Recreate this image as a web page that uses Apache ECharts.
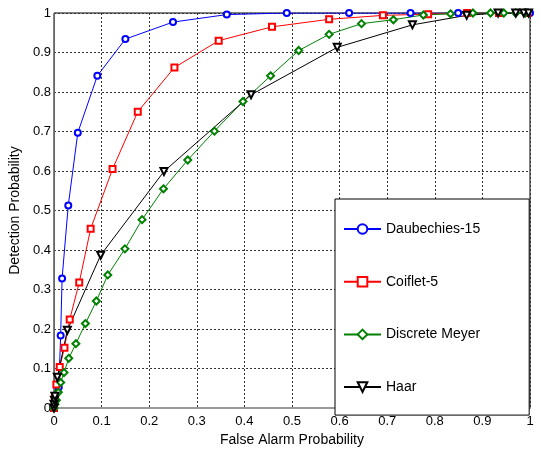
<!DOCTYPE html>
<html>
<head>
<meta charset="utf-8">
<script src="https://cdn.jsdelivr.net/npm/echarts@6/dist/echarts.min.js"></script>
<style>
  html, body { margin: 0; padding: 0; background: #fff; }
  #chart { width: 540px; height: 452px; }
</style>
</head>
<body>
<div id="chart"></div>
<script>
// ROC curves
const seriesNames = ['Daubechies-15', 'Coiflet-5', 'Discrete Meyer', 'Haar'];

const daubX = [0, 0.002, 0.010, 0.014, 0.017, 0.030, 0.050, 0.091, 0.150, 0.250, 0.363, 0.489, 0.620, 0.749, 0.849, 0.935, 1.0];
const daubY = [0, 0.02, 0.053, 0.184, 0.328, 0.513, 0.697, 0.841, 0.934, 0.977, 0.996, 1, 1, 1, 1, 1, 1];

const coifX = [0, 0.002, 0.005, 0.012, 0.022, 0.033, 0.053, 0.077, 0.123, 0.176, 0.253, 0.346, 0.458, 0.578, 0.691, 0.786, 0.868, 0.935, 0.994];
const coifY = [0.0, 0.03, 0.06, 0.104, 0.153, 0.224, 0.318, 0.454, 0.605, 0.750, 0.862, 0.930, 0.965, 0.984, 0.994, 0.997, 1, 1, 1];

const meyerX = [0, 0.002, 0.005, 0.009, 0.014, 0.021, 0.031, 0.046, 0.066, 0.089, 0.113, 0.149, 0.185, 0.230, 0.281, 0.337, 0.397, 0.455, 0.514, 0.578, 0.646, 0.713, 0.776, 0.833, 0.880, 0.917, 0.945, 0.970, 0.990];
const meyerY = [0, 0.01, 0.02, 0.04, 0.065, 0.090, 0.126, 0.163, 0.214, 0.271, 0.337, 0.403, 0.477, 0.555, 0.628, 0.701, 0.776, 0.841, 0.905, 0.946, 0.973, 0.983, 0.995, 0.998, 1, 1, 1, 1, 1];

const haarX = [0, 0, 0.001, 0.002, 0.007, 0.028, 0.098, 0.231, 0.414, 0.595, 0.753, 0.867, 0.933, 0.970, 0.987, 0.997];
const haarY = [0, 0.01, 0.02, 0.03, 0.078, 0.197, 0.387, 0.599, 0.793, 0.913, 0.970, 0.994, 1, 1, 1, 1];

const zip = (xs, ys) => xs.map((x, i) => [x, ys[i]]);

const font = 'Liberation Sans, Arial, sans-serif';

const chart = echarts.init(document.getElementById('chart'), null, { renderer: 'canvas' });

function curve(name, data, color, symbol, size, rotate) {
  return {
    name: name,
    type: 'line',
    data: data,
    symbol: symbol,
    symbolSize: size,
    symbolRotate: rotate || 0,
    showAllSymbol: true,
    animation: false,
    lineStyle: { color: color, width: 1 },
    itemStyle: { color: color, borderColor: color, borderWidth: 1 },
    emphasis: { disabled: true },
  };
}

const option = {
  backgroundColor: '#fff',
  animation: false,
  grid: {
    left: 54, right: 10, top: 13, bottom: 36,
    show: true, borderColor: '#000', borderWidth: 1, backgroundColor: '#fff',
  },
  xAxis: {
    type: 'value', min: 0, max: 1, interval: 0.1,
    name: 'False Alarm Probability',
    nameLocation: 'middle', nameGap: 24,
    nameTextStyle: { fontFamily: font, fontSize: 14, color: '#000' },
    axisLine: { show: true, lineStyle: { color: '#999', width: 2 } },
    axisTick: { show: false },
    axisLabel: { fontFamily: font, fontSize: 13, color: '#000', margin: 7 },
    splitLine: { show: true, lineStyle: { color: '#333', type: [2, 2], width: 1 } },
  },
  yAxis: {
    type: 'value', min: 0, max: 1, interval: 0.1,
    name: 'Detection Probability',
    nameLocation: 'middle', nameGap: 26,
    nameTextStyle: { fontFamily: font, fontSize: 14, color: '#000' },
    axisLine: { show: true, lineStyle: { color: '#666', width: 1 } },
    axisTick: { show: false },
    axisLabel: { fontFamily: font, fontSize: 13, color: '#000', margin: 3 },
    splitLine: { show: true, lineStyle: { color: '#333', type: [2, 2], width: 1 } },
  },
  legend: {
    data: seriesNames,
    orient: 'vertical',
    left: 335, top: 199,
    padding: [23, 49, 21, 8],
    itemWidth: 37, itemHeight: 12, itemGap: 38.7,
    backgroundColor: '#fff', borderColor: '#000', borderWidth: 1,
    textStyle: { fontFamily: font, fontSize: 14, color: '#000' },
    selectedMode: false,
  },
  series: [
    curve(seriesNames[0], zip(daubX, daubY), '#0000ff', 'emptyCircle', 6),
    curve(seriesNames[1], zip(coifX, coifY), '#ff0000', 'emptyRect', 6),
    curve(seriesNames[2], zip(meyerX, meyerY), '#008000', 'emptyDiamond', 7),
    curve(seriesNames[3], zip(haarX, haarY), '#000000', 'emptyTriangle', 7, 180),
  ],
};

chart.setOption(option);
</script>
</body>
</html>
